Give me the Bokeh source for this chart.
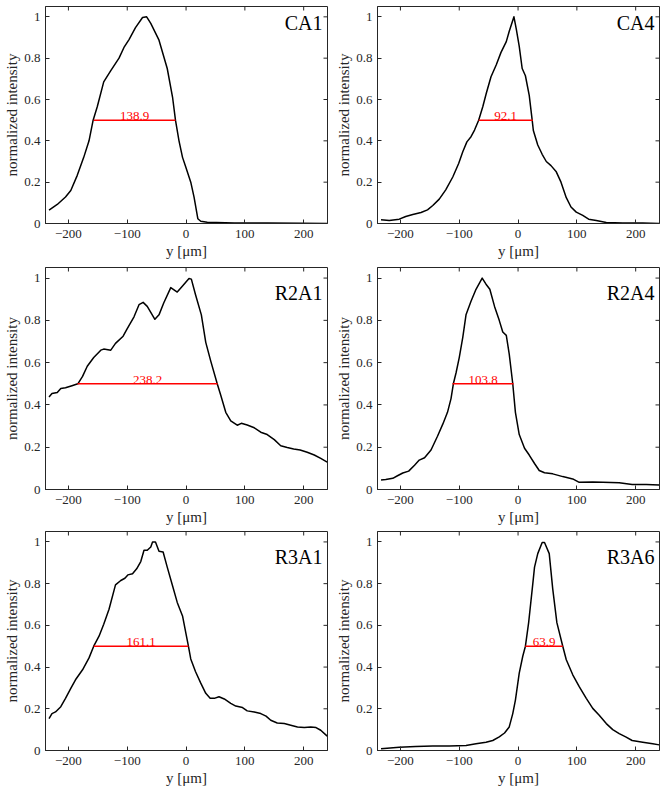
import math
from bokeh.plotting import figure
from bokeh.layouts import gridplot
from bokeh.models import Range1d, FixedTicker, Label, NumeralTickFormatter
from bokeh.embed import file_html
from bokeh.resources import INLINE
from bokeh.core.properties import value

FONT = "'Liberation Serif', serif"
AX = "#262626"

panel_names = ["CA1", "CA4", "R2A1", "R2A4", "R3A1", "R3A6"]

ca1_pos = [-233, -219, -205, -196, -185, -174, -165, -158, -151, -140, -128, -114, -105, -97, -86, -74, -67,
           -60, -46, -32, -23, -18, -12, -6, -0.5, 8, 13.6, 20, 25, 36, 82, 138, 195, 240]
ca1_int = [0.065, 0.092, 0.128, 0.16, 0.233, 0.32, 0.40, 0.50, 0.565, 0.685, 0.74, 0.80, 0.855, 0.89, 0.948, 0.997, 1.0,
           0.968, 0.887, 0.75, 0.612, 0.50, 0.40, 0.32, 0.273, 0.20, 0.128, 0.023, 0.011, 0.006, 0.003, 0.002, 0.001, 0.0]

ca4_pos = [-233, -219, -202, -191, -179, -165, -154, -145, -134, -123, -111, -101, -94, -87, -80, -74, -67, -60, -54,
           -46, -37, -29, -20, -15, -7, -3, 2, 7, 12.5, 19, 24, 26, 33.5, 41, 48, 56, 65, 73, 82, 90, 99, 110, 120,
           133, 150, 178, 212, 240]
ca4_int = [0.018, 0.015, 0.021, 0.034, 0.044, 0.053, 0.066, 0.087, 0.118, 0.163, 0.225, 0.29, 0.347, 0.395, 0.42,
           0.452, 0.50, 0.565, 0.63, 0.71, 0.768, 0.828, 0.88, 0.93, 1.0, 0.94, 0.857, 0.75, 0.715, 0.62, 0.50, 0.45,
           0.38, 0.335, 0.30, 0.28, 0.25, 0.20, 0.125, 0.08, 0.055, 0.039, 0.021, 0.015, 0.005, 0.003, 0.003, 0.0]

r2a1_pos = [-233, -228, -219, -213, -205, -194, -184, -176, -168, -157, -145, -140, -128, -120, -107, -100, -88.5,
            -80, -73, -66, -53, -46, -38, -26, -15, -6, 5, 9, 16, 26, 33.5, 42, 53, 59, 67.5, 76, 87, 94, 104, 116,
            127, 138, 150, 161, 172, 183, 194, 206, 218, 229, 240]
r2a1_int = [0.438, 0.454, 0.459, 0.478, 0.481, 0.491, 0.50, 0.535, 0.583, 0.624, 0.659, 0.664, 0.659, 0.691, 0.725,
            0.761, 0.817, 0.874, 0.885, 0.866, 0.805, 0.826, 0.882, 0.955, 0.934, 0.963, 0.998, 0.995, 0.922, 0.826,
            0.696, 0.607, 0.50, 0.446, 0.365, 0.325, 0.304, 0.313, 0.305, 0.292, 0.271, 0.26, 0.236, 0.207, 0.199,
            0.192, 0.187, 0.176, 0.163, 0.147, 0.129]

r2a4_pos = [-233, -225, -213, -205, -196, -186, -176, -168, -159, -148, -137, -128, -120, -114, -110, -105.5, -100,
            -94, -88.5, -80, -71.5, -61, -54.5, -48, -40, -32, -26, -20, -15, -9, -4.5, 2, 11, 19, 28, 36, 45, 59,
            76, 93, 104, 127, 144, 172, 194, 218, 240]
r2a4_int = [0.045, 0.047, 0.053, 0.065, 0.078, 0.087, 0.115, 0.139, 0.15, 0.187, 0.252, 0.309, 0.365, 0.43, 0.50,
            0.551, 0.624, 0.72, 0.826, 0.89, 0.947, 1.0, 0.971, 0.947, 0.866, 0.80, 0.745, 0.729, 0.64, 0.50, 0.365,
            0.26, 0.195, 0.163, 0.123, 0.09, 0.079, 0.074, 0.061, 0.05, 0.034, 0.036, 0.034, 0.032, 0.024, 0.024,
            0.021]

r3a1_pos = [-233, -228, -222, -213, -205, -196, -188, -176, -165, -157, -148, -140, -131, -120, -111, -104, -99, -91,
            -84, -77, -71.5, -66, -60, -57, -52, -46, -39, -32, -23, -15, -6, -0.5, 4, 8, 16, 25, 33.5, 41, 48, 56,
            65, 76, 84.5, 96, 104, 116, 127, 136, 144, 155, 167, 178, 189.5, 201, 212, 221, 229, 240]
r3a1_int = [0.153, 0.177, 0.185, 0.21, 0.25, 0.298, 0.339, 0.387, 0.444, 0.50, 0.548, 0.605, 0.677, 0.794, 0.815,
            0.826, 0.842, 0.847, 0.871, 0.906, 0.96, 0.96, 0.976, 1.0, 1.0, 0.955, 0.952, 0.879, 0.79, 0.71, 0.645,
            0.565, 0.50, 0.439, 0.379, 0.323, 0.274, 0.25, 0.25, 0.258, 0.247, 0.226, 0.213, 0.206, 0.19, 0.185,
            0.177, 0.165, 0.145, 0.132, 0.129, 0.121, 0.113, 0.11, 0.113, 0.11, 0.097, 0.069]

r3a6_pos = [-233, -202, -174, -145, -117, -88.5, -71.5, -54.5, -43, -32, -23, -15, -9, -4.5, 2, 8, 12.5, 18, 25, 28,
            33.5, 41, 45, 53, 59, 66, 76, 82, 93, 104, 116, 127, 138, 150, 161, 172, 183, 194, 212, 229, 240]
r3a6_int = [0.008, 0.016, 0.019, 0.021, 0.021, 0.024, 0.032, 0.04, 0.048, 0.065, 0.084, 0.113, 0.177, 0.242, 0.371,
            0.452, 0.50, 0.613, 0.798, 0.879, 0.944, 0.997, 0.997, 0.944, 0.774, 0.613, 0.50, 0.435, 0.363, 0.306,
            0.25, 0.202, 0.169, 0.129, 0.1, 0.081, 0.065, 0.048, 0.04, 0.032, 0.027]

positions = [ca1_pos, ca4_pos, r2a1_pos, r2a4_pos, r3a1_pos, r3a6_pos]
intensities = [ca1_int, ca4_int, r2a1_int, r2a4_int, r3a1_int, r3a6_int]

fwhm_left = [-157.0, -67.0, -184.5, -111.5, -157.0, 12.3]
fwhm_width = [138.9, 92.1, 238.2, 103.8, 161.1, 63.9]
half_max = 0.5

x_ticks = [-200, -100, 0, 100, 200]
y_ticks = [0, 0.2, 0.4, 0.6, 0.8, 1]
X0, X1 = -239, 240.5
Y0, Y1 = 0, 1.05

# layout: (height, border_top, border_bottom) per row; (width, border_left, border_right) per column
rows_geom = [(264, 6, 41), (264, 3, 39), (260, 3, 38)]
cols_geom = [(332, 45, 5), (330, 45, 3)]
title_y = [1.023, 0.98, 0.98]


def make_panel(i):
    r, c = divmod(i, 2)
    h, bt, bb = rows_geom[r]
    w, bl, br = cols_geom[c]
    p = figure(width=w, height=h, output_backend="svg", toolbar_location=None,
               x_range=Range1d(X0, X1), y_range=Range1d(Y0, Y1),
               min_border_left=bl, min_border_right=br, min_border_top=bt, min_border_bottom=bb,
               background_fill_color="white", border_fill_color="white")
    p.grid.visible = False
    p.outline_line_color = AX
    p.outline_line_width = 1

    for ax in (p.xaxis[0], p.yaxis[0]):
        ax.major_tick_in = 4
        ax.major_tick_out = 0
        ax.minor_tick_line_color = None
        ax.major_tick_line_color = AX
        ax.axis_line_color = AX
        ax.major_label_text_font = FONT
        ax.major_label_text_font_size = "13px"
        ax.major_label_text_color = AX
        ax.axis_label_text_font = FONT
        ax.axis_label_text_font_size = "15px"
        ax.axis_label_text_font_style = "normal"
        ax.axis_label_text_color = AX

    p.xaxis.ticker = FixedTicker(ticks=x_ticks)
    p.yaxis.ticker = FixedTicker(ticks=y_ticks)
    p.yaxis.formatter = NumeralTickFormatter(format="0.[0]")
    p.xaxis.major_label_standoff = 6
    p.xaxis.axis_label_standoff = 2
    p.yaxis.major_label_standoff = 5
    p.yaxis.axis_label_standoff = 1
    p.xaxis.axis_label = "y [μm]"
    p.yaxis.axis_label = "normalized intensity"

    # mirrored inward ticks on the top and right edges of the box
    p.scatter(x=x_ticks, y=[Y1] * len(x_ticks), marker="dash", size=8, angle=math.pi / 2,
              line_color=AX, line_width=1)
    p.scatter(x=[X1] * len(y_ticks), y=y_ticks, marker="dash", size=8,
              line_color=AX, line_width=1)

    p.line(positions[i], intensities[i], line_color="black", line_width=1.5, line_join="round")

    xl = fwhm_left[i]
    xr = xl + fwhm_width[i]
    p.segment(x0=[xl], y0=[half_max], x1=[xr], y1=[half_max], line_color="red", line_width=1.5)
    p.text(x=[(xl + xr) / 2], y=[half_max], text=[f"{fwhm_width[i]:.1f}"], text_color="red",
           text_font=value(FONT), text_font_size="13px", text_align="center", text_baseline="bottom")

    p.add_layout(Label(x=232, y=title_y[r], text=panel_names[i], text_align="right", text_baseline="top",
                       text_font=FONT, text_font_size="20px", text_color="black"))
    return p


panels = [make_panel(i) for i in range(6)]
grid = gridplot([[panels[0], panels[1]], [panels[2], panels[3]], [panels[4], panels[5]]],
                toolbar_location=None)

open("out.html", "w").write(file_html(grid, INLINE))
